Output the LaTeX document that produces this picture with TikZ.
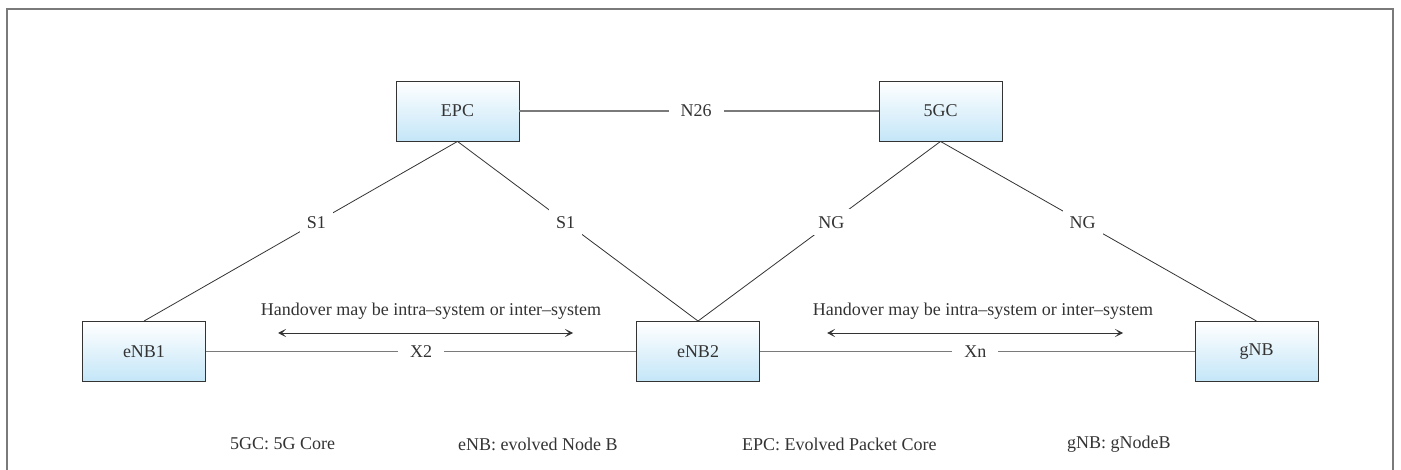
\documentclass[tikz,border=0pt]{standalone}
\usepackage{fontspec}
\setmainfont{Liberation Serif}
\usetikzlibrary{arrows.meta}
\definecolor{boxblue}{HTML}{C4E6F8}
\definecolor{linedark}{HTML}{333333}
\definecolor{linegrey}{HTML}{7A7A7A}
\tikzset{
  netbox/.style={draw=linedark, line width=0.9pt, top color=white, bottom color=boxblue,
    minimum width=123pt, minimum height=60pt, inner sep=0pt, font=\fontsize{18}{21}\selectfont, text=linedark},
  diag/.style={draw=linedark, line width=0.8pt},
  hline/.style={draw=linegrey, line width=1.4pt},
  lbl/.style={fill=white, inner xsep=12pt, inner ysep=3pt, font=\fontsize{18}{21}\selectfont, text=linedark},
  dlbl/.style={fill=white, inner sep=7pt, font=\fontsize{18}{21}\selectfont, text=linedark},
  txt/.style={inner sep=0pt, font=\fontsize{18}{21}\selectfont, text=linedark},
  dblarrow/.style={draw=linedark, line width=0.9pt, {Stealth[length=8pt,width=8pt,inset=4pt]}-{Stealth[length=8pt,width=8pt,inset=4pt]}}
}
\begin{document}
\begin{tikzpicture}[x=1pt,y=-1pt]
\useasboundingbox (0,0) rectangle (1401,470);
\draw[linegrey, line width=1.6pt] (7,480) -- (7,9) -- (1393,9) -- (1393,480);

\node[netbox] (epc) at (457.5,111) {EPC};
\node[netbox] (fgc) at (940.5,111) {5GC};
\node[netbox] (enb1) at (144,351.5) {eNB1};
\node[netbox] (enb2) at (698,351.5) {eNB2};
\node[netbox] (gnb) at (1256.5,351.5) {gNB};

\draw[hline] (epc.east) -- node[lbl, pos=0.5, xshift=-3pt] (n26) {N26} (fgc.west);
\draw[diag] (epc.south) -- node[dlbl, pos=0.45] (s1a) {S1} (enb1.north);
\draw[diag] (epc.south) -- node[dlbl, pos=0.45] (s1b) {S1} (enb2.north);
\draw[diag] (fgc.south) -- node[dlbl, pos=0.45] (nga) {NG} (enb2.north);
\draw[diag] (fgc.south) -- node[dlbl, pos=0.45] (ngb) {NG} (gnb.north);
\draw[hline] (enb1.east) -- node[lbl, pos=0.5] (x2) {X2} (enb2.west);
\draw[hline] (enb2.east) -- node[lbl, pos=0.5, xshift=-2pt] (xn) {Xn} (gnb.west);

\node[txt] (hoa) at (431,311) {Handover may be intra--system or inter--system};
\node[txt] (hob) at (983,311) {Handover may be intra--system or inter--system};
\coordinate (a1l) at (278,333);
\coordinate (a1r) at (573,333);
\coordinate (a2l) at (827,333);
\coordinate (a2r) at (1123,333);
\draw[dblarrow] (a1l) -- (a1r);
\draw[dblarrow] (a2l) -- (a2r);

\node[txt, anchor=west] (lg1) at (230,444) {5GC: 5G Core};
\node[txt, anchor=west] (lg2) at (458,444) {eNB: evolved Node B};
\node[txt, anchor=west] (lg3) at (742,444) {EPC: Evolved Packet Core};
\node[txt, anchor=west] (lg4) at (1067,444) {gNB: gNodeB};
\end{tikzpicture}
\end{document}
